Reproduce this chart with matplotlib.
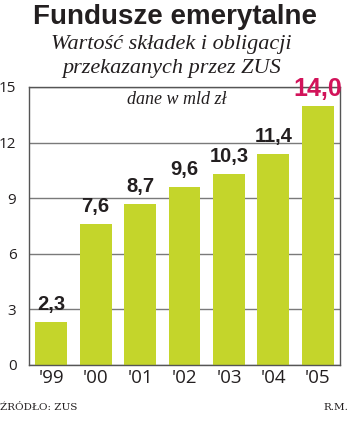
import matplotlib
matplotlib.use("Agg")
import matplotlib.pyplot as plt

# data (mld zl)
years = ["'99", "'00", "'01", "'02", "'03", "'04", "'05"]
values = [2.3, 7.6, 8.7, 9.6, 10.3, 11.4, 14.0]
labels = ["2,3", "7,6", "8,7", "9,6", "10,3", "11,4", "14,0"]
yticks = [0, 3, 6, 9, 12, 15]

bar_col = "#c4d52b"
dark = "#231f20"
red = "#d2135a"

fig = plt.figure(figsize=(3.5, 4.21), dpi=100)
ax = fig.add_axes([29/350, 1-365/421, 311/350, 278/421])

x = range(len(values))
ax.bar(x, values, width=0.72, color=bar_col, zorder=2)
ax.set_xlim(-0.5, 6.5)
ax.set_ylim(0, 15)

ax.set_yticks(yticks)
ax.set_yticklabels([str(t) for t in yticks], fontsize=11, color=dark, family="Open Sans")
ax.set_xticks(list(x))
ax.set_xticklabels(years, fontsize=13.5, color=dark, family="Open Sans")
ax.tick_params(length=0, pad=3)
ax.tick_params(axis='y', pad=9)
ax.yaxis.grid(True, color="#7a7a7a", lw=1, zorder=1)
for s in ax.spines.values():
    s.set_color("#555555")
    s.set_linewidth(1)

for i, (v, lab) in enumerate(zip(values, labels)):
    last = i == len(values) - 1
    ax.text(i, v + (0.5 if last else 0.65), lab, ha='center', va='baseline',
            fontsize=18 if last else 14.5, fontweight='bold',
            color=red if last else dark, family="Liberation Sans", clip_on=False)

fig.text(0.5, 1-17/421, "Fundusze emerytalne", ha='center', va='center',
         fontsize=20, fontweight='bold', color=dark, family="Liberation Sans")
fig.text(0.49, 1-45/421, "Wartość składek i obligacji", ha='center', va='center',
         fontsize=16, style='italic', color=dark, family="Liberation Serif")
fig.text(0.49, 1-68/421, "przekazanych przez ZUS", ha='center', va='center',
         fontsize=16, style='italic', color=dark, family="Liberation Serif")
fig.text(0.504, 1-99/421, "dane w mld zł", ha='center', va='center',
         fontsize=13, style='italic', color=dark, family="Liberation Serif")
fig.text(0.0, 1-408/421, "ŹRÓDŁO: ZUS", ha='left', va='center',
         fontsize=7.5, color=dark, family="DejaVu Serif")
fig.text(0.995, 1-408/421, "R.M.", ha='right', va='center',
         fontsize=7.5, color=dark, family="DejaVu Serif")

fig.savefig("out.png", dpi=100)
